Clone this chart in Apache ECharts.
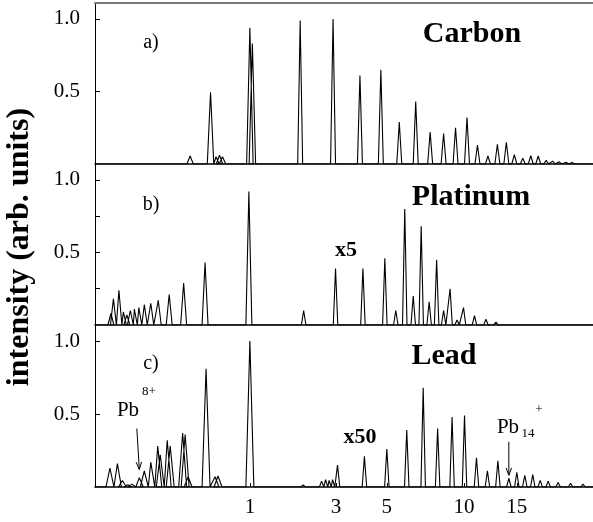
<!DOCTYPE html>
<html>
<head>
<meta charset="utf-8">
<script src="https://cdn.jsdelivr.net/npm/echarts@6/dist/echarts.min.js"></script>
<style>
html, body { margin: 0; padding: 0; background: #fff; }
#chart { width: 593px; height: 522px; }
</style>
</head>
<body>
<div id="chart"></div>
<script>
// peak positions on the flight-time scale (arb. units, 0..100) and relative intensities
const carbonPos = [19.1, 23.2, 24.3, 25.0, 25.6, 31.1, 31.6, 41.2, 47.8, 53.2, 57.4, 61.1, 64.4, 67.3, 70.0, 72.4, 74.7, 76.8, 78.9, 80.8, 82.6, 84.2, 85.9, 87.5, 89.0, 90.6, 91.9, 93.2, 94.6, 95.8];
const carbonVal = [0.055, 0.495, 0.05, 0.06, 0.05, 0.94, 0.83, 0.99, 1.0, 0.61, 0.65, 0.29, 0.43, 0.22, 0.21, 0.25, 0.32, 0.13, 0.055, 0.135, 0.15, 0.064, 0.04, 0.057, 0.055, 0.025, 0.02, 0.015, 0.012, 0.01];

const platinumPos = [3.2, 3.7, 4.8, 5.7, 6.4, 7.1, 7.9, 8.8, 9.9, 11.2, 12.7, 14.9, 17.8, 22.1, 30.9, 41.9, 48.3, 53.8, 58.2, 60.4, 62.2, 63.9, 65.5, 67.1, 68.6, 70.0, 71.3, 72.7, 74.0, 76.2, 78.5, 80.5];
const platinumVal = [0.08, 0.18, 0.24, 0.09, 0.07, 0.10, 0.11, 0.12, 0.14, 0.15, 0.17, 0.21, 0.29, 0.43, 0.92, 0.10, 0.39, 0.39, 0.46, 0.10, 0.80, 0.20, 0.68, 0.16, 0.45, 0.10, 0.25, 0.035, 0.12, 0.065, 0.04, 0.02];

const leadPos = [3.0, 4.5, 5.5, 6.6, 7.4, 8.9, 9.9, 11.2, 12.6, 13.1, 14.5, 15.1, 17.6, 18.1, 18.7, 22.3, 24.1, 24.7, 31.1, 41.8, 45.5, 46.3, 47.0, 47.7, 48.7, 54.1, 58.6, 62.6, 65.9, 68.8, 71.7, 74.2, 76.6, 78.8, 80.9, 83.1, 84.7, 86.3, 87.9, 89.4, 91.0, 93.0, 95.5, 98.0];
const leadVal = [0.13, 0.16, 0.045, 0.015, 0.02, 0.064, 0.11, 0.17, 0.28, 0.22, 0.32, 0.28, 0.37, 0.36, 0.07, 0.81, 0.07, 0.075, 1.0, 0.015, 0.04, 0.05, 0.045, 0.05, 0.15, 0.21, 0.26, 0.39, 0.68, 0.40, 0.48, 0.49, 0.20, 0.11, 0.18, 0.06, 0.10, 0.08, 0.085, 0.045, 0.04, 0.03, 0.025, 0.02];

// x tick labels (cluster size) and where they sit on the flight-time scale
const tickPos = [31.1, 48.4, 58.6, 74.1, 84.7];
const tickText = ['1', '3', '5', '10', '15'];

const yLabels = [0.5, 1.0];
const yTicks = [[0.5, 1.0], [0.25, 0.5, 0.75, 1.0], [0.5, 1.0]];

const FONT = 'Liberation Serif';

// turn each peak into a narrow spike on the baseline
function peakLine (pos, val, wide, narrow) {
    const pts = [[0, 0]];
    pos.forEach((t, i) => {
        const w = t < 35 ? wide : narrow;
        pts.push([t - w, 0], [t, val[i]], [t + w, 0]);
    });
    pts.push([100, 0]);
    return pts;
}

const chart = echarts.init(document.getElementById('chart'));

const grids = [
    { left: 95, right: 0, top: 3, height: 161 },
    { left: 95, right: 0, top: 164, height: 161 },
    { left: 95, right: 0, top: 325, height: 162 }
];

const xAxes = grids.map((g, i) => ({
    gridIndex: i,
    type: 'value',
    min: 0,
    max: 100,
    axisLine: { lineStyle: { color: '#000', width: 1.5 } },
    axisTick: { show: i === 2, inside: true, length: 4, customValues: tickPos, lineStyle: { color: '#000' } },
    axisLabel: {
        show: i === 2,
        customValues: tickPos,
        formatter: v => {
            const k = tickPos.findIndex(p => Math.abs(p - v) < 1e-6);
            return k >= 0 ? tickText[k] : '';
        },
        fontFamily: FONT,
        fontSize: 21,
        color: '#000',
        margin: 10
    },
    splitLine: { show: false }
}));
// grey frame line on top of the first panel
xAxes.push({
    gridIndex: 0,
    type: 'value',
    position: 'top',
    min: 0,
    max: 100,
    axisLine: { lineStyle: { color: '#777', width: 2 } },
    axisTick: { show: false },
    axisLabel: { show: false },
    splitLine: { show: false }
});

const yAxes = grids.map((g, i) => ({
    gridIndex: i,
    type: 'value',
    min: 0,
    max: 1.11,
    axisLine: { show: true, lineStyle: { color: '#000', width: 1 } },
    axisTick: { show: true, inside: true, length: 5, customValues: yTicks[i], lineStyle: { color: '#000' } },
    axisLabel: {
        customValues: yLabels,
        formatter: v => v.toFixed(1),
        fontFamily: FONT,
        fontSize: 21,
        color: '#000',
        margin: 15
    },
    splitLine: { show: false }
}));

const lineStyle = { color: '#000', width: 1.1 };
chart.setOption({
    animation: false,
    grid: grids,
    xAxis: xAxes,
    yAxis: yAxes,
    series: [
        { type: 'line', xAxisIndex: 0, yAxisIndex: 0, showSymbol: false, lineStyle, data: peakLine(carbonPos, carbonVal, 0.65, 0.5) },
        { type: 'line', xAxisIndex: 1, yAxisIndex: 1, showSymbol: false, lineStyle, data: peakLine(platinumPos, platinumVal, 0.6, 0.45) },
        { type: 'line', xAxisIndex: 2, yAxisIndex: 2, showSymbol: false, lineStyle, data: peakLine(leadPos, leadVal, 0.8, 0.45) }
    ]
});

function label (text, x, y, font) {
    return { type: 'text', x, y, style: { text, font, fill: '#000', align: 'center', verticalAlign: 'middle' } };
}

function arrow (gridIndex, from, to) {
    const p0 = chart.convertToPixel({ gridIndex }, from);
    const p1 = chart.convertToPixel({ gridIndex }, to);
    const ang = Math.atan2(p1[1] - p0[1], p1[0] - p0[0]);
    const L = 8, a = 0.35;
    return [
        { type: 'line', shape: { x1: p0[0], y1: p0[1], x2: p1[0], y2: p1[1] }, style: { stroke: '#000', lineWidth: 1 } },
        {
            type: 'polyline',
            shape: { points: [
                [p1[0] - L * Math.cos(ang - a), p1[1] - L * Math.sin(ang - a)],
                p1,
                [p1[0] - L * Math.cos(ang + a), p1[1] - L * Math.sin(ang + a)]
            ] },
            style: { stroke: '#000', lineWidth: 1, fill: null }
        }
    ];
}

const big = 'bold 30px ' + FONT;
chart.setOption({
    graphic: [
        {
            type: 'text', x: 20, y: 247, rotation: Math.PI / 2,
            style: { text: 'intensity (arb. units)', font: 'bold 32px ' + FONT, fill: '#000', align: 'center', verticalAlign: 'middle' }
        },
        label('a)', 151, 43, '20px ' + FONT),
        label('b)', 151, 205, '20px ' + FONT),
        label('c)', 151, 364, '20px ' + FONT),
        label('Carbon', 472, 34, big),
        label('Platinum', 471, 197, big),
        label('Lead', 444, 356, big),
        label('x5', 346, 250, 'bold 22px ' + FONT),
        label('x50', 360, 437, 'bold 22px ' + FONT),
        label('Pb', 128, 410, '21px ' + FONT),
        label('8+', 149, 392, '13px ' + FONT),
        label('Pb', 508, 427, '21px ' + FONT),
        label('14', 528, 434, '13px ' + FONT),
        label('+', 539, 410, '13px ' + FONT),
        ...arrow(2, [8.4, 0.40], [8.9, 0.12]),
        ...arrow(2, [83.1, 0.31], [83.1, 0.08])
    ]
});
</script>
</body>
</html>
